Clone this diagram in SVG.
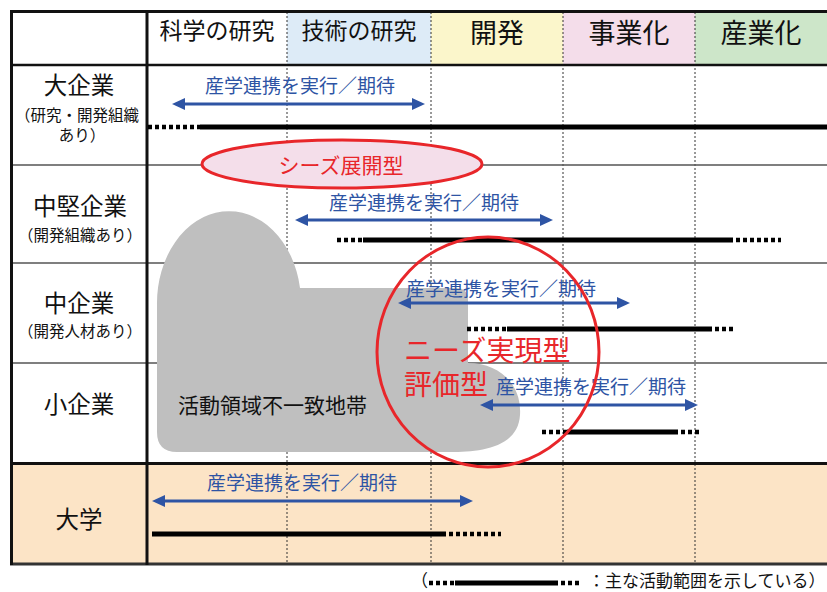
<svg xmlns="http://www.w3.org/2000/svg" width="827" height="592" viewBox="0 0 827 592">
<defs>
<style>
text{font-family:"Noto Sans CJK JP","Noto Sans CJK SC",sans-serif;}
.hd{font-size:23px;fill:#111;text-anchor:middle}
.hdl{font-size:27px;fill:#111;text-anchor:middle}
.rl{font-size:23.5px;fill:#111;text-anchor:middle}
.rs{font-size:15.5px;fill:#111;text-anchor:middle}
.lbl{font-size:19px;fill:#2E54A4;text-anchor:middle}
.arr{stroke:#2E54A4;stroke-width:3;fill:none;marker-start:url(#ah);marker-end:url(#ah)}
.bar{stroke:#000;stroke-width:5;fill:none}
.dot{stroke:#000;stroke-width:4.5;stroke-dasharray:4 3;fill:none}
.vd{stroke:#333;stroke-width:1;stroke-dasharray:2 2}
.rw{stroke:#555;stroke-width:1.5}
.bd{stroke:#111;stroke-width:3}
.red{fill:#E8262A}
.lg{font-size:17px;fill:#111}
</style>
<marker id="ah" viewBox="0 0 13 12" refX="1" refY="6" markerWidth="13" markerHeight="12" markerUnits="userSpaceOnUse" orient="auto-start-reverse"><path d="M0,0 L13,6 L0,12 z" fill="#2E54A4"/></marker>
</defs>

<g id="backgrounds">
<rect x="287" y="12" width="144" height="53" fill="#DDEBF7"/>
<rect x="431" y="12" width="132" height="53" fill="#FBF6CB"/>
<rect x="563" y="12" width="132" height="53" fill="#F4DDEA"/>
<rect x="695" y="12" width="132" height="53" fill="#CDE6C9"/>
<rect x="11" y="463" width="816" height="101" fill="#FCE4C6"/>
</g>

<g id="grid">
<line class="vd" x1="287" y1="12" x2="287" y2="563"/>
<line class="vd" x1="431" y1="12" x2="431" y2="563"/>
<line class="vd" x1="563" y1="12" x2="563" y2="563"/>
<line class="vd" x1="695" y1="12" x2="695" y2="563"/>
<line class="rw" x1="11" y1="165" x2="827" y2="165"/>
<line class="rw" x1="11" y1="263" x2="827" y2="263"/>
<line class="rw" x1="11" y1="363" x2="827" y2="363"/>
<line class="bd" x1="10" y1="11.5" x2="827" y2="11.5"/>
<line class="bd" x1="11" y1="65" x2="827" y2="65" style="stroke-width:2.5"/>
<line class="bd" x1="11" y1="463.5" x2="827" y2="463.5"/>
<line class="bd" x1="10" y1="564" x2="827" y2="564" style="stroke:#333"/>
<line class="bd" x1="11.5" y1="10" x2="11.5" y2="565"/>
<line class="bd" x1="147" y1="10" x2="147" y2="565"/>
</g>

<g id="headers">
<text class="hd" x="217" y="39">科学の研究</text>
<text class="hd" x="359" y="39">技術の研究</text>
<text class="hdl" x="497" y="43">開発</text>
<text class="hdl" x="629" y="43">事業化</text>
<text class="hdl" x="761" y="43">産業化</text>
</g>

<g id="row-large">
<text class="rl" x="79" y="94">大企業</text>
<text class="rs" x="77" y="121">（研究・開発組織</text>
<text class="rs" x="82" y="141">あり）</text>
</g>
<g id="row-midlarge">
<text class="rl" x="80" y="215">中堅企業</text>
<text class="rs" x="80" y="241">（開発組織あり）</text>
</g>
<g id="row-mid">
<text class="rl" x="79" y="312">中企業</text>
<text class="rs" x="80" y="337">（開発人材あり）</text>
</g>
<g id="row-small">
<text class="rl" x="79" y="413">小企業</text>
</g>
<g id="row-univ">
<text class="rl" x="79" y="528">大学</text>
</g>

<g id="mismatch-zone">
<path d="M157 432 L157 305 A72 92 0 0 1 300 288 L456 288 Q468 288 468 300 L468 363 C500 363 522 385 520 415 C518 448 480 452 450 452 L177 452 Q157 452 157 432 Z" fill="#BFBFBF"/>
<text x="178" y="413" style="font-size:21px;fill:#111">活動領域不一致地帯</text>
</g>

<g id="connectors">
<line class="dot" x1="148" y1="127" x2="200" y2="127"/>
<line class="bar" x1="200" y1="127" x2="827" y2="127"/>
<line class="dot" x1="337" y1="240" x2="363" y2="240"/>
<line class="bar" x1="363" y1="240" x2="733" y2="240"/>
<line class="dot" x1="736" y1="240" x2="781" y2="240"/>
<line class="dot" x1="467" y1="329" x2="507" y2="329"/>
<line class="bar" x1="507" y1="329" x2="712" y2="329"/>
<line class="dot" x1="715" y1="329" x2="734" y2="329"/>
<line class="dot" x1="542" y1="432" x2="567" y2="432"/>
<line class="bar" x1="567" y1="432" x2="678" y2="432"/>
<line class="dot" x1="681" y1="432" x2="699" y2="432"/>
<line class="bar" x1="152" y1="534" x2="446" y2="534"/>
<line class="dot" x1="449" y1="534" x2="501" y2="534"/>
<line class="arr" x1="184" y1="104" x2="413" y2="104"/>
<line class="arr" x1="307" y1="220" x2="541" y2="220"/>
<line class="arr" x1="410" y1="303" x2="618" y2="303"/>
<line class="arr" x1="492" y1="405" x2="686" y2="405"/>
<line class="arr" x1="164" y1="501" x2="461" y2="501"/>
<text class="lbl" x="300" y="93">産学連携を実行／期待</text>
<text class="lbl" x="424" y="210">産学連携を実行／期待</text>
<text class="lbl" x="501" y="296">産学連携を実行／期待</text>
<text class="lbl" x="591" y="394">産学連携を実行／期待</text>
<text class="lbl" x="302" y="490">産学連携を実行／期待</text>
</g>

<g id="seeds">
<ellipse cx="342" cy="164" rx="140" ry="24" fill="#F4DEEA" stroke="#E8262A" stroke-width="3"/>
<text class="red" x="341" y="173" style="font-size:21px;text-anchor:middle">シーズ展開型</text>
</g>

<g id="needs">
<ellipse cx="488" cy="352" rx="111" ry="115" fill="none" stroke="#E8262A" stroke-width="3"/>
<text class="red" x="404" y="361" style="font-size:28px">ニーズ実現型</text>
<text class="red" x="404" y="395" style="font-size:28px">評価型</text>
</g>

<g id="legend">
<text class="lg" x="411" y="587">（</text>
<line class="dot" x1="429" y1="583" x2="455" y2="583"/>
<line class="bar" x1="455" y1="583" x2="558" y2="583"/>
<line class="dot" x1="561" y1="583" x2="581" y2="583"/>
<text class="lg" x="588" y="587">：主な活動範囲を示している）</text>
</g>
</svg>
